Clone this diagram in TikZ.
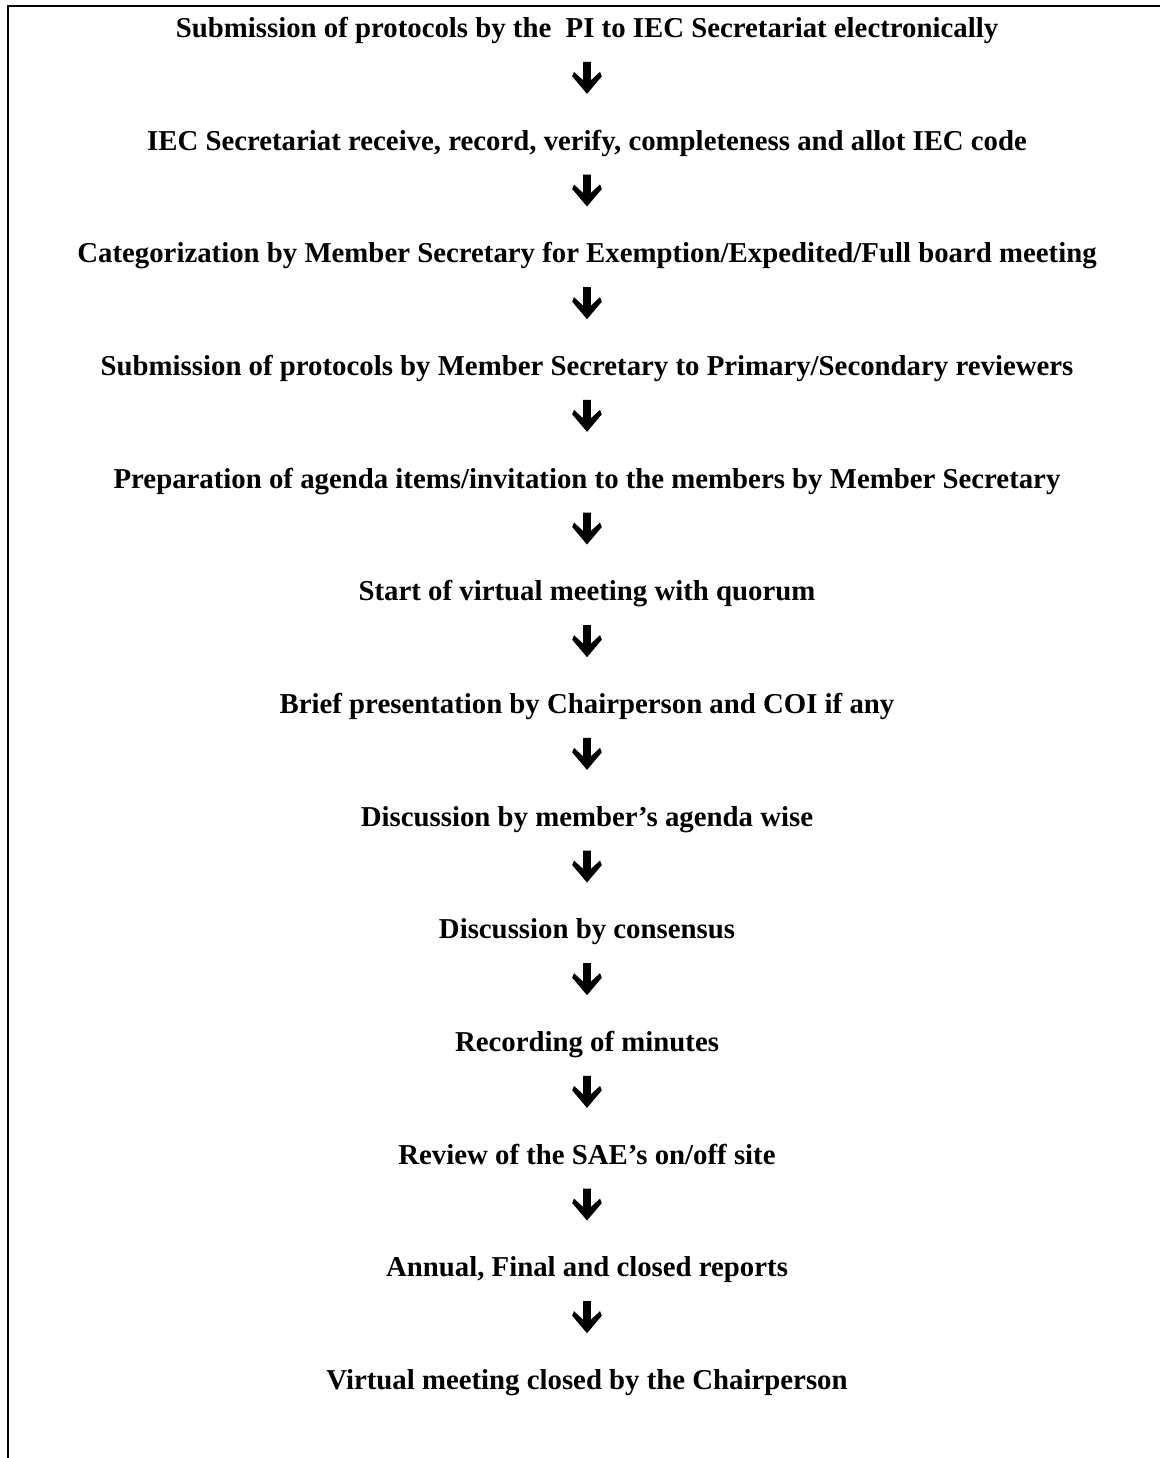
\documentclass[tikz,border=0pt]{standalone}
\usepackage{fontspec}
\setmainfont{Liberation Serif}
\usetikzlibrary{calc}
\tikzset{
  steptext/.style={anchor=base, inner sep=0pt,
    font=\fontsize{28.8}{32}\selectfont\bfseries},
  frameline/.style={line width=2.2pt, line cap=rect},
  flowarrow/.pic={
    \fill[black] (-3.8,-16) -- (3.8,-16) -- (3.8,2.5) -- (13,-6) -- (14.8,-1.5)
      -- (0,16) -- (-14.8,-1.5) -- (-13,-6) -- (-3.8,2.5) -- cycle;
  }
}
\begin{document}
\begin{tikzpicture}[x=1pt,y=-1pt]
  \useasboundingbox (0,0) rectangle (1159,1458);
  % open frame: top rule and left rule only
  \draw[frameline] (8,1458) -- (8,6) -- (1159,6);

  \foreach \i/\txt in {
    1/{Submission of protocols by the\ \ PI to IEC Secretariat electronically},
    2/{IEC Secretariat receive, record, verify, completeness and allot IEC code},
    3/{Categorization by Member Secretary for Exemption/Expedited/Full board meeting},
    4/{Submission of protocols by Member Secretary to Primary/Secondary reviewers},
    5/{Preparation of agenda items/invitation to the members by Member Secretary},
    6/{Start of virtual meeting with quorum},
    7/{Brief presentation by Chairperson and COI if any},
    8/{Discussion by member’s agenda wise},
    9/{Discussion by consensus},
    10/{Recording of minutes},
    11/{Review of the SAE’s on/off site},
    12/{Annual, Final and closed reports},
    13/{Virtual meeting closed by the Chairperson}}
  {
    \node[steptext] (t\i) at (587,{37.5+112.67*(\i-1)}) {\txt};
  }

  % block arrows between consecutive steps
  \foreach \i in {1,...,12}{
    \pgfmathtruncatemacro{\j}{\i+1}
    \pic at ($(t\i.base)!0.5!(t\j.base)+(0,-16)$) {flowarrow};
  }
\end{tikzpicture}
\end{document}
